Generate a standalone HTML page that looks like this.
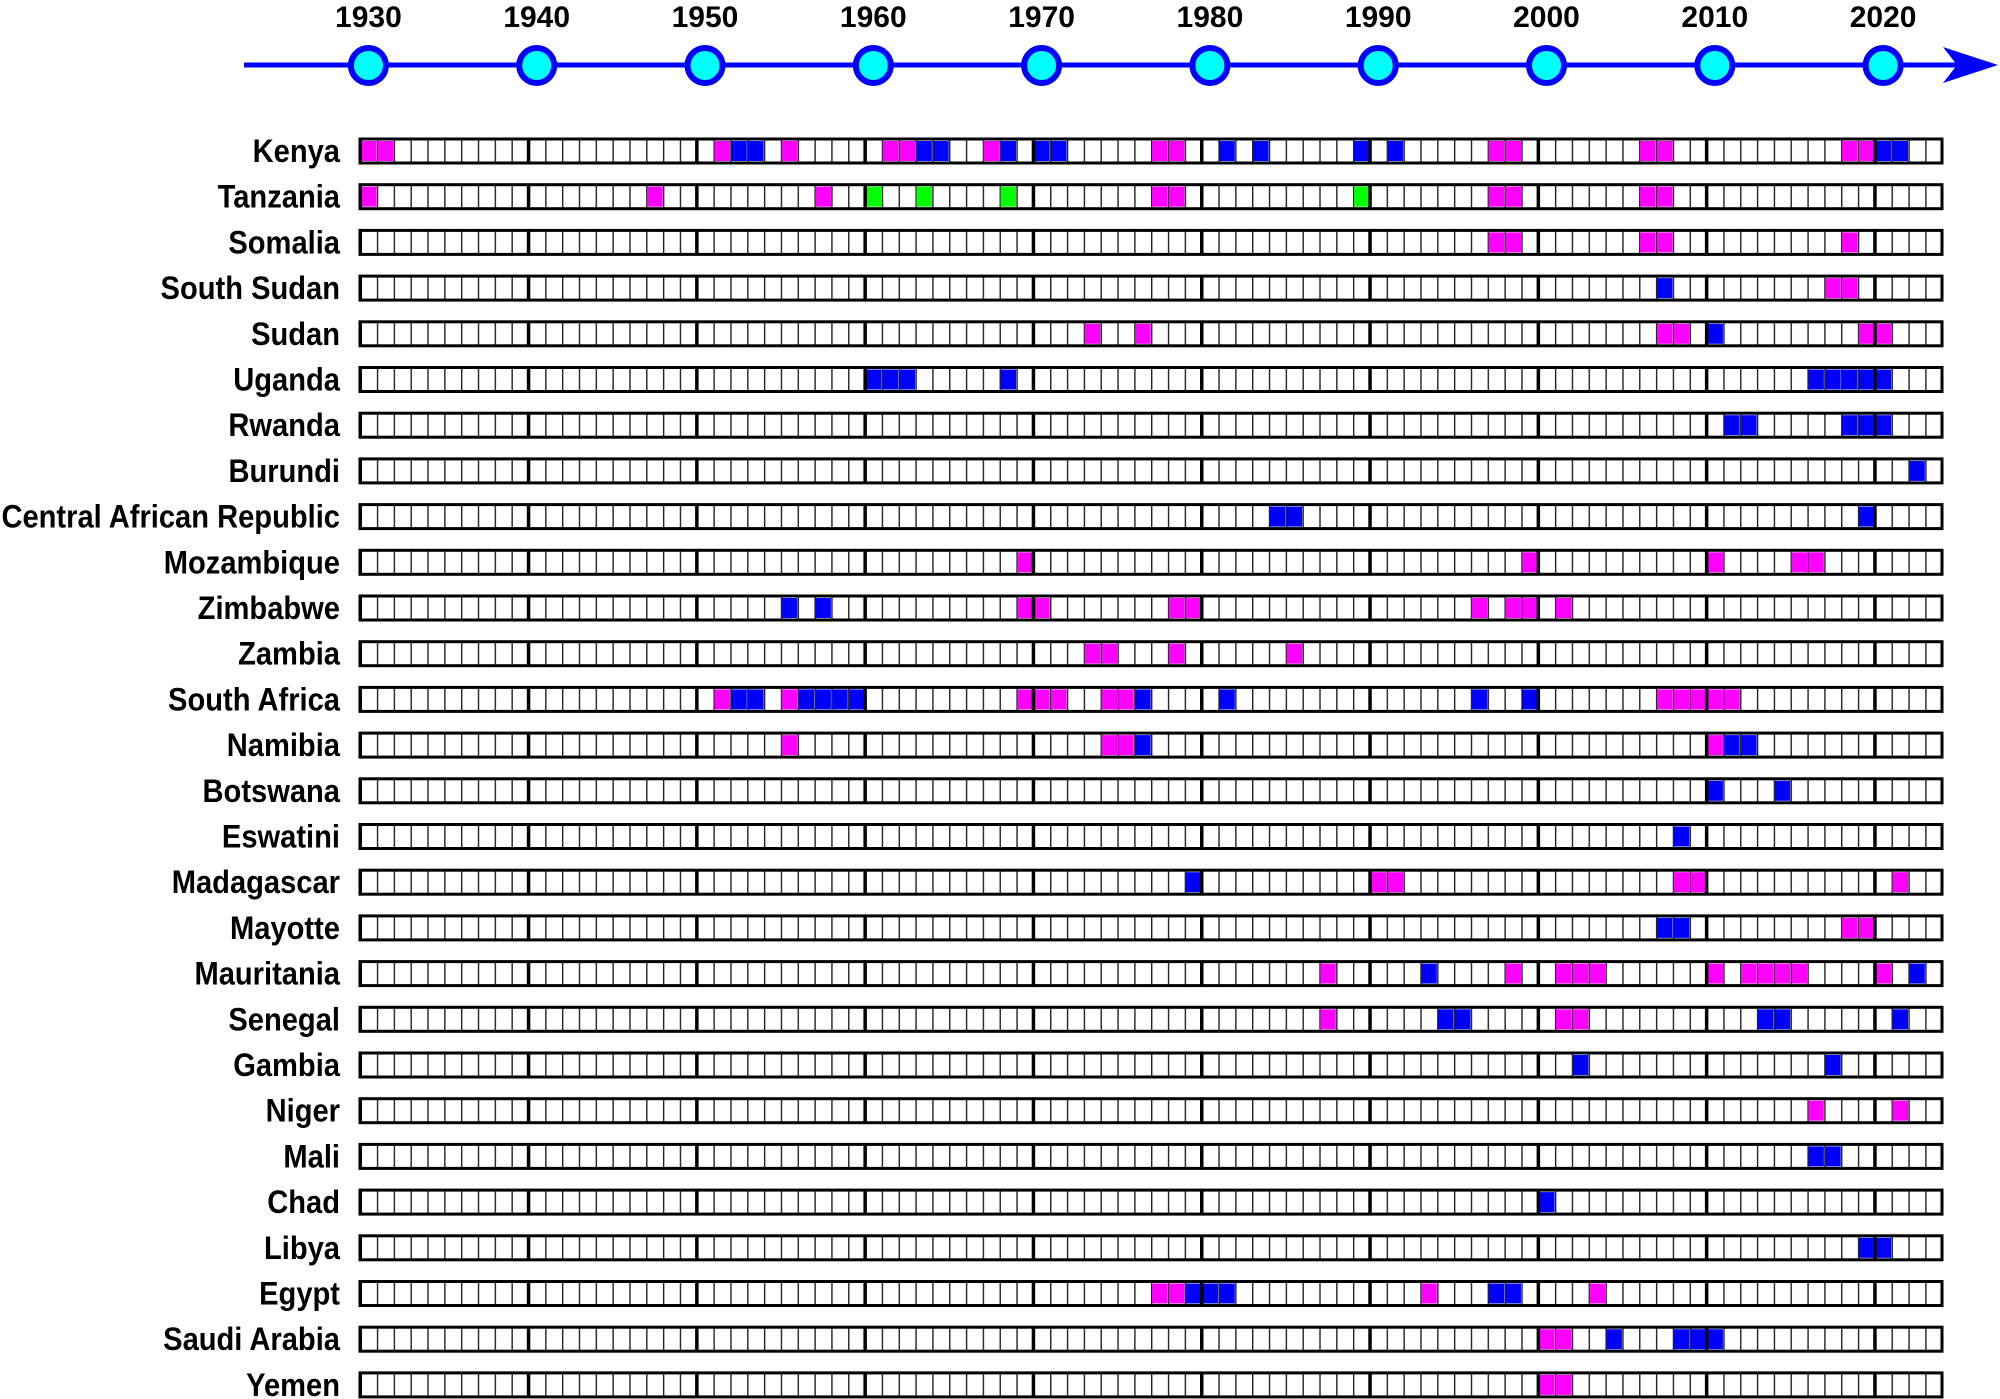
<!DOCTYPE html>
<html><head><meta charset="utf-8"><style>
html,body{margin:0;padding:0;background:#fff;}
svg{display:block;}
.lb{font-family:"Liberation Sans",Arial,sans-serif;font-weight:bold;font-size:32px;fill:#000;}
.yr{font-family:"Liberation Sans",Arial,sans-serif;font-weight:bold;font-size:30px;fill:#000;}
.m{fill:#ff00ff}.b{fill:#0000ff}.g{fill:#00ff00}
</style></head><body>
<svg width="2000" height="1399" viewBox="0 0 2000 1399" xmlns="http://www.w3.org/2000/svg">
<defs>
<pattern id="thin" patternUnits="userSpaceOnUse" x="360" y="0" width="16.83" height="24">
<rect x="0" y="0" width="16.83" height="24" fill="#fff"/>
<rect x="0" y="0" width="1.4" height="24" fill="#222"/>
</pattern>
<pattern id="thick" patternUnits="userSpaceOnUse" x="358.5" y="0" width="168.3" height="24">
<rect x="0" y="0" width="3.5" height="24" fill="#000"/>
</pattern>
<g id="rowbase">
<rect x="360" y="0" width="1582" height="24" fill="url(#thin)"/>
</g>
<g id="rowtop">
<rect x="360" y="0" width="1582" height="24" fill="url(#thick)"/>
<rect x="360" y="0" width="1582" height="24" fill="none" stroke="#000" stroke-width="3"/>
</g>
</defs>

<line x1="244" y1="65" x2="1960" y2="65" stroke="#0000ff" stroke-width="5"/>
<polygon points="1998,65 1943,47 1957,65 1943,83" fill="#0000ff"/>
<g fill="#00ffff" stroke="#0000ff" stroke-width="6">
<circle cx="368.4" cy="65.5" r="17.5"/><circle cx="536.7" cy="65.5" r="17.5"/><circle cx="705" cy="65.5" r="17.5"/><circle cx="873.3" cy="65.5" r="17.5"/><circle cx="1041.6" cy="65.5" r="17.5"/><circle cx="1209.9" cy="65.5" r="17.5"/><circle cx="1378.2" cy="65.5" r="17.5"/><circle cx="1546.5" cy="65.5" r="17.5"/><circle cx="1714.8" cy="65.5" r="17.5"/><circle cx="1883.1" cy="65.5" r="17.5"/>
</g>
<g class="yr" text-anchor="middle">
<text x="368.4" y="27">1930</text><text x="536.7" y="27">1940</text><text x="705" y="27">1950</text><text x="873.3" y="27">1960</text><text x="1041.6" y="27">1970</text><text x="1209.9" y="27">1980</text><text x="1378.2" y="27">1990</text><text x="1546.5" y="27">2000</text><text x="1714.8" y="27">2010</text><text x="1883.1" y="27">2020</text>
</g>

<use href="#rowbase" y="139"/><use href="#rowbase" y="184.7"/><use href="#rowbase" y="230.4"/><use href="#rowbase" y="276.1"/><use href="#rowbase" y="321.8"/><use href="#rowbase" y="367.5"/><use href="#rowbase" y="413.2"/><use href="#rowbase" y="458.9"/><use href="#rowbase" y="504.6"/><use href="#rowbase" y="550.3"/><use href="#rowbase" y="596"/><use href="#rowbase" y="641.7"/><use href="#rowbase" y="687.4"/><use href="#rowbase" y="733.1"/><use href="#rowbase" y="778.8"/><use href="#rowbase" y="824.5"/><use href="#rowbase" y="870.2"/><use href="#rowbase" y="915.9"/><use href="#rowbase" y="961.6"/><use href="#rowbase" y="1007.3"/><use href="#rowbase" y="1053"/><use href="#rowbase" y="1098.7"/><use href="#rowbase" y="1144.4"/><use href="#rowbase" y="1190.1"/><use href="#rowbase" y="1235.8"/><use href="#rowbase" y="1281.5"/><use href="#rowbase" y="1327.2"/><use href="#rowbase" y="1372.9"/>

<g transform="translate(360,139) scale(16.83,1)"><g transform="translate(0.06,2)">
<rect class="m" x="0" width="0.92" height="20"/><rect class="m" x="1" width="0.92" height="20"/><rect class="m" x="21" width="0.92" height="20"/><rect class="m" x="25" width="0.92" height="20"/><rect class="m" x="31" width="0.92" height="20"/><rect class="m" x="32" width="0.92" height="20"/><rect class="m" x="37" width="0.92" height="20"/><rect class="m" x="47" width="0.92" height="20"/><rect class="m" x="48" width="0.92" height="20"/><rect class="m" x="67" width="0.92" height="20"/><rect class="m" x="68" width="0.92" height="20"/><rect class="m" x="76" width="0.92" height="20"/><rect class="m" x="77" width="0.92" height="20"/><rect class="m" x="88" width="0.92" height="20"/><rect class="m" x="89" width="0.92" height="20"/>
<rect class="b" x="22" width="0.92" height="20"/><rect class="b" x="23" width="0.92" height="20"/><rect class="b" x="33" width="0.92" height="20"/><rect class="b" x="34" width="0.92" height="20"/><rect class="b" x="38" width="0.92" height="20"/><rect class="b" x="40" width="0.92" height="20"/><rect class="b" x="41" width="0.92" height="20"/><rect class="b" x="51" width="0.92" height="20"/><rect class="b" x="53" width="0.92" height="20"/><rect class="b" x="59" width="0.92" height="20"/><rect class="b" x="61" width="0.92" height="20"/><rect class="b" x="90" width="0.92" height="20"/><rect class="b" x="91" width="0.92" height="20"/>
</g></g>
<g transform="translate(360,184.7) scale(16.83,1)"><g transform="translate(0.06,2)">
<rect class="m" x="0" width="0.92" height="20"/><rect class="m" x="17" width="0.92" height="20"/><rect class="m" x="27" width="0.92" height="20"/><rect class="m" x="47" width="0.92" height="20"/><rect class="m" x="48" width="0.92" height="20"/><rect class="m" x="67" width="0.92" height="20"/><rect class="m" x="68" width="0.92" height="20"/><rect class="m" x="76" width="0.92" height="20"/><rect class="m" x="77" width="0.92" height="20"/>
<rect class="g" x="30" width="0.92" height="20"/><rect class="g" x="33" width="0.92" height="20"/><rect class="g" x="38" width="0.92" height="20"/><rect class="g" x="59" width="0.92" height="20"/>
</g></g>
<g transform="translate(360,230.4) scale(16.83,1)"><g transform="translate(0.06,2)">
<rect class="m" x="67" width="0.92" height="20"/><rect class="m" x="68" width="0.92" height="20"/><rect class="m" x="76" width="0.92" height="20"/><rect class="m" x="77" width="0.92" height="20"/><rect class="m" x="88" width="0.92" height="20"/>
</g></g>
<g transform="translate(360,276.1) scale(16.83,1)"><g transform="translate(0.06,2)">
<rect class="b" x="77" width="0.92" height="20"/><rect class="m" x="87" width="0.92" height="20"/><rect class="m" x="88" width="0.92" height="20"/>
</g></g>
<g transform="translate(360,321.8) scale(16.83,1)"><g transform="translate(0.06,2)">
<rect class="m" x="43" width="0.92" height="20"/><rect class="m" x="46" width="0.92" height="20"/><rect class="m" x="77" width="0.92" height="20"/><rect class="m" x="78" width="0.92" height="20"/><rect class="m" x="89" width="0.92" height="20"/><rect class="m" x="90" width="0.92" height="20"/><rect class="b" x="80" width="0.92" height="20"/>
</g></g>
<g transform="translate(360,367.5) scale(16.83,1)"><g transform="translate(0.06,2)">
<rect class="b" x="30" width="0.92" height="20"/><rect class="b" x="31" width="0.92" height="20"/><rect class="b" x="32" width="0.92" height="20"/><rect class="b" x="38" width="0.92" height="20"/><rect class="b" x="86" width="0.92" height="20"/><rect class="b" x="87" width="0.92" height="20"/><rect class="b" x="88" width="0.92" height="20"/><rect class="b" x="89" width="0.92" height="20"/><rect class="b" x="90" width="0.92" height="20"/>
</g></g>
<g transform="translate(360,413.2) scale(16.83,1)"><g transform="translate(0.06,2)">
<rect class="b" x="81" width="0.92" height="20"/><rect class="b" x="82" width="0.92" height="20"/><rect class="b" x="88" width="0.92" height="20"/><rect class="b" x="89" width="0.92" height="20"/><rect class="b" x="90" width="0.92" height="20"/>
</g></g>
<g transform="translate(360,458.9) scale(16.83,1)"><g transform="translate(0.06,2)">
<rect class="b" x="92" width="0.92" height="20"/>
</g></g>
<g transform="translate(360,504.6) scale(16.83,1)"><g transform="translate(0.06,2)">
<rect class="b" x="54" width="0.92" height="20"/><rect class="b" x="55" width="0.92" height="20"/><rect class="b" x="89" width="0.92" height="20"/>
</g></g>
<g transform="translate(360,550.3) scale(16.83,1)"><g transform="translate(0.06,2)">
<rect class="m" x="39" width="0.92" height="20"/><rect class="m" x="69" width="0.92" height="20"/><rect class="m" x="80" width="0.92" height="20"/><rect class="m" x="85" width="0.92" height="20"/><rect class="m" x="86" width="0.92" height="20"/>
</g></g>
<g transform="translate(360,596) scale(16.83,1)"><g transform="translate(0.06,2)">
<rect class="b" x="25" width="0.92" height="20"/><rect class="b" x="27" width="0.92" height="20"/>
<rect class="m" x="39" width="0.92" height="20"/><rect class="m" x="40" width="0.92" height="20"/><rect class="m" x="48" width="0.92" height="20"/><rect class="m" x="49" width="0.92" height="20"/><rect class="m" x="66" width="0.92" height="20"/><rect class="m" x="68" width="0.92" height="20"/><rect class="m" x="69" width="0.92" height="20"/><rect class="m" x="71" width="0.92" height="20"/>
</g></g>
<g transform="translate(360,641.7) scale(16.83,1)"><g transform="translate(0.06,2)">
<rect class="m" x="43" width="0.92" height="20"/><rect class="m" x="44" width="0.92" height="20"/><rect class="m" x="48" width="0.92" height="20"/><rect class="m" x="55" width="0.92" height="20"/>
</g></g>
<g transform="translate(360,687.4) scale(16.83,1)"><g transform="translate(0.06,2)">
<rect class="m" x="21" width="0.92" height="20"/><rect class="m" x="25" width="0.92" height="20"/><rect class="m" x="39" width="0.92" height="20"/><rect class="m" x="40" width="0.92" height="20"/><rect class="m" x="41" width="0.92" height="20"/><rect class="m" x="44" width="0.92" height="20"/><rect class="m" x="45" width="0.92" height="20"/><rect class="m" x="77" width="0.92" height="20"/><rect class="m" x="78" width="0.92" height="20"/><rect class="m" x="79" width="0.92" height="20"/><rect class="m" x="80" width="0.92" height="20"/><rect class="m" x="81" width="0.92" height="20"/>
<rect class="b" x="22" width="0.92" height="20"/><rect class="b" x="23" width="0.92" height="20"/><rect class="b" x="26" width="0.92" height="20"/><rect class="b" x="27" width="0.92" height="20"/><rect class="b" x="28" width="0.92" height="20"/><rect class="b" x="29" width="0.92" height="20"/><rect class="b" x="46" width="0.92" height="20"/><rect class="b" x="51" width="0.92" height="20"/><rect class="b" x="66" width="0.92" height="20"/><rect class="b" x="69" width="0.92" height="20"/>
</g></g>
<g transform="translate(360,733.1) scale(16.83,1)"><g transform="translate(0.06,2)">
<rect class="m" x="25" width="0.92" height="20"/><rect class="m" x="44" width="0.92" height="20"/><rect class="m" x="45" width="0.92" height="20"/><rect class="m" x="80" width="0.92" height="20"/>
<rect class="b" x="46" width="0.92" height="20"/><rect class="b" x="81" width="0.92" height="20"/><rect class="b" x="82" width="0.92" height="20"/>
</g></g>
<g transform="translate(360,778.8) scale(16.83,1)"><g transform="translate(0.06,2)">
<rect class="b" x="80" width="0.92" height="20"/><rect class="b" x="84" width="0.92" height="20"/>
</g></g>
<g transform="translate(360,824.5) scale(16.83,1)"><g transform="translate(0.06,2)">
<rect class="b" x="78" width="0.92" height="20"/>
</g></g>
<g transform="translate(360,870.2) scale(16.83,1)"><g transform="translate(0.06,2)">
<rect class="b" x="49" width="0.92" height="20"/><rect class="m" x="60" width="0.92" height="20"/><rect class="m" x="61" width="0.92" height="20"/><rect class="m" x="78" width="0.92" height="20"/><rect class="m" x="79" width="0.92" height="20"/><rect class="m" x="91" width="0.92" height="20"/>
</g></g>
<g transform="translate(360,915.9) scale(16.83,1)"><g transform="translate(0.06,2)">
<rect class="b" x="77" width="0.92" height="20"/><rect class="b" x="78" width="0.92" height="20"/><rect class="m" x="88" width="0.92" height="20"/><rect class="m" x="89" width="0.92" height="20"/>
</g></g>
<g transform="translate(360,961.6) scale(16.83,1)"><g transform="translate(0.06,2)">
<rect class="m" x="57" width="0.92" height="20"/><rect class="m" x="68" width="0.92" height="20"/><rect class="m" x="71" width="0.92" height="20"/><rect class="m" x="72" width="0.92" height="20"/><rect class="m" x="73" width="0.92" height="20"/><rect class="m" x="80" width="0.92" height="20"/><rect class="m" x="82" width="0.92" height="20"/><rect class="m" x="83" width="0.92" height="20"/><rect class="m" x="84" width="0.92" height="20"/><rect class="m" x="85" width="0.92" height="20"/><rect class="m" x="90" width="0.92" height="20"/>
<rect class="b" x="63" width="0.92" height="20"/><rect class="b" x="92" width="0.92" height="20"/>
</g></g>
<g transform="translate(360,1007.3) scale(16.83,1)"><g transform="translate(0.06,2)">
<rect class="m" x="57" width="0.92" height="20"/><rect class="m" x="71" width="0.92" height="20"/><rect class="m" x="72" width="0.92" height="20"/>
<rect class="b" x="64" width="0.92" height="20"/><rect class="b" x="65" width="0.92" height="20"/><rect class="b" x="83" width="0.92" height="20"/><rect class="b" x="84" width="0.92" height="20"/><rect class="b" x="91" width="0.92" height="20"/>
</g></g>
<g transform="translate(360,1053) scale(16.83,1)"><g transform="translate(0.06,2)">
<rect class="b" x="72" width="0.92" height="20"/><rect class="b" x="87" width="0.92" height="20"/>
</g></g>
<g transform="translate(360,1098.7) scale(16.83,1)"><g transform="translate(0.06,2)">
<rect class="m" x="86" width="0.92" height="20"/><rect class="m" x="91" width="0.92" height="20"/>
</g></g>
<g transform="translate(360,1144.4) scale(16.83,1)"><g transform="translate(0.06,2)">
<rect class="b" x="86" width="0.92" height="20"/><rect class="b" x="87" width="0.92" height="20"/>
</g></g>
<g transform="translate(360,1190.1) scale(16.83,1)"><g transform="translate(0.06,2)">
<rect class="b" x="70" width="0.92" height="20"/>
</g></g>
<g transform="translate(360,1235.8) scale(16.83,1)"><g transform="translate(0.06,2)">
<rect class="b" x="89" width="0.92" height="20"/><rect class="b" x="90" width="0.92" height="20"/>
</g></g>
<g transform="translate(360,1281.5) scale(16.83,1)"><g transform="translate(0.06,2)">
<rect class="m" x="47" width="0.92" height="20"/><rect class="m" x="48" width="0.92" height="20"/><rect class="m" x="63" width="0.92" height="20"/><rect class="m" x="73" width="0.92" height="20"/>
<rect class="b" x="49" width="0.92" height="20"/><rect class="b" x="50" width="0.92" height="20"/><rect class="b" x="51" width="0.92" height="20"/><rect class="b" x="67" width="0.92" height="20"/><rect class="b" x="68" width="0.92" height="20"/>
</g></g>
<g transform="translate(360,1327.2) scale(16.83,1)"><g transform="translate(0.06,2)">
<rect class="m" x="70" width="0.92" height="20"/><rect class="m" x="71" width="0.92" height="20"/>
<rect class="b" x="74" width="0.92" height="20"/><rect class="b" x="78" width="0.92" height="20"/><rect class="b" x="79" width="0.92" height="20"/><rect class="b" x="80" width="0.92" height="20"/>
</g></g>
<g transform="translate(360,1372.9) scale(16.83,1)"><g transform="translate(0.06,2)">
<rect class="m" x="70" width="0.92" height="20"/><rect class="m" x="71" width="0.92" height="20"/>
</g></g>

<use href="#rowtop" y="139"/><use href="#rowtop" y="184.7"/><use href="#rowtop" y="230.4"/><use href="#rowtop" y="276.1"/><use href="#rowtop" y="321.8"/><use href="#rowtop" y="367.5"/><use href="#rowtop" y="413.2"/><use href="#rowtop" y="458.9"/><use href="#rowtop" y="504.6"/><use href="#rowtop" y="550.3"/><use href="#rowtop" y="596"/><use href="#rowtop" y="641.7"/><use href="#rowtop" y="687.4"/><use href="#rowtop" y="733.1"/><use href="#rowtop" y="778.8"/><use href="#rowtop" y="824.5"/><use href="#rowtop" y="870.2"/><use href="#rowtop" y="915.9"/><use href="#rowtop" y="961.6"/><use href="#rowtop" y="1007.3"/><use href="#rowtop" y="1053"/><use href="#rowtop" y="1098.7"/><use href="#rowtop" y="1144.4"/><use href="#rowtop" y="1190.1"/><use href="#rowtop" y="1235.8"/><use href="#rowtop" y="1281.5"/><use href="#rowtop" y="1327.2"/><use href="#rowtop" y="1372.9"/>

<g transform="translate(340,0) scale(0.91,1)" class="lb" text-anchor="end">
<text x="0" y="162">Kenya</text>
<text x="0" y="207.7">Tanzania</text>
<text x="0" y="253.4">Somalia</text>
<text x="0" y="299.1">South Sudan</text>
<text x="0" y="344.8">Sudan</text>
<text x="0" y="390.5">Uganda</text>
<text x="0" y="436.2">Rwanda</text>
<text x="0" y="481.9">Burundi</text>
<text x="0" y="527.6">Central African Republic</text>
<text x="0" y="573.3">Mozambique</text>
<text x="0" y="619">Zimbabwe</text>
<text x="0" y="664.7">Zambia</text>
<text x="0" y="710.4">South Africa</text>
<text x="0" y="756.1">Namibia</text>
<text x="0" y="801.8">Botswana</text>
<text x="0" y="847.5">Eswatini</text>
<text x="0" y="893.2">Madagascar</text>
<text x="0" y="938.9">Mayotte</text>
<text x="0" y="984.6">Mauritania</text>
<text x="0" y="1030.3">Senegal</text>
<text x="0" y="1076">Gambia</text>
<text x="0" y="1121.7">Niger</text>
<text x="0" y="1167.4">Mali</text>
<text x="0" y="1213.1">Chad</text>
<text x="0" y="1258.8">Libya</text>
<text x="0" y="1304.5">Egypt</text>
<text x="0" y="1350.2">Saudi Arabia</text>
<text x="0" y="1395.9">Yemen</text>
</g>
</svg>
</body></html>
